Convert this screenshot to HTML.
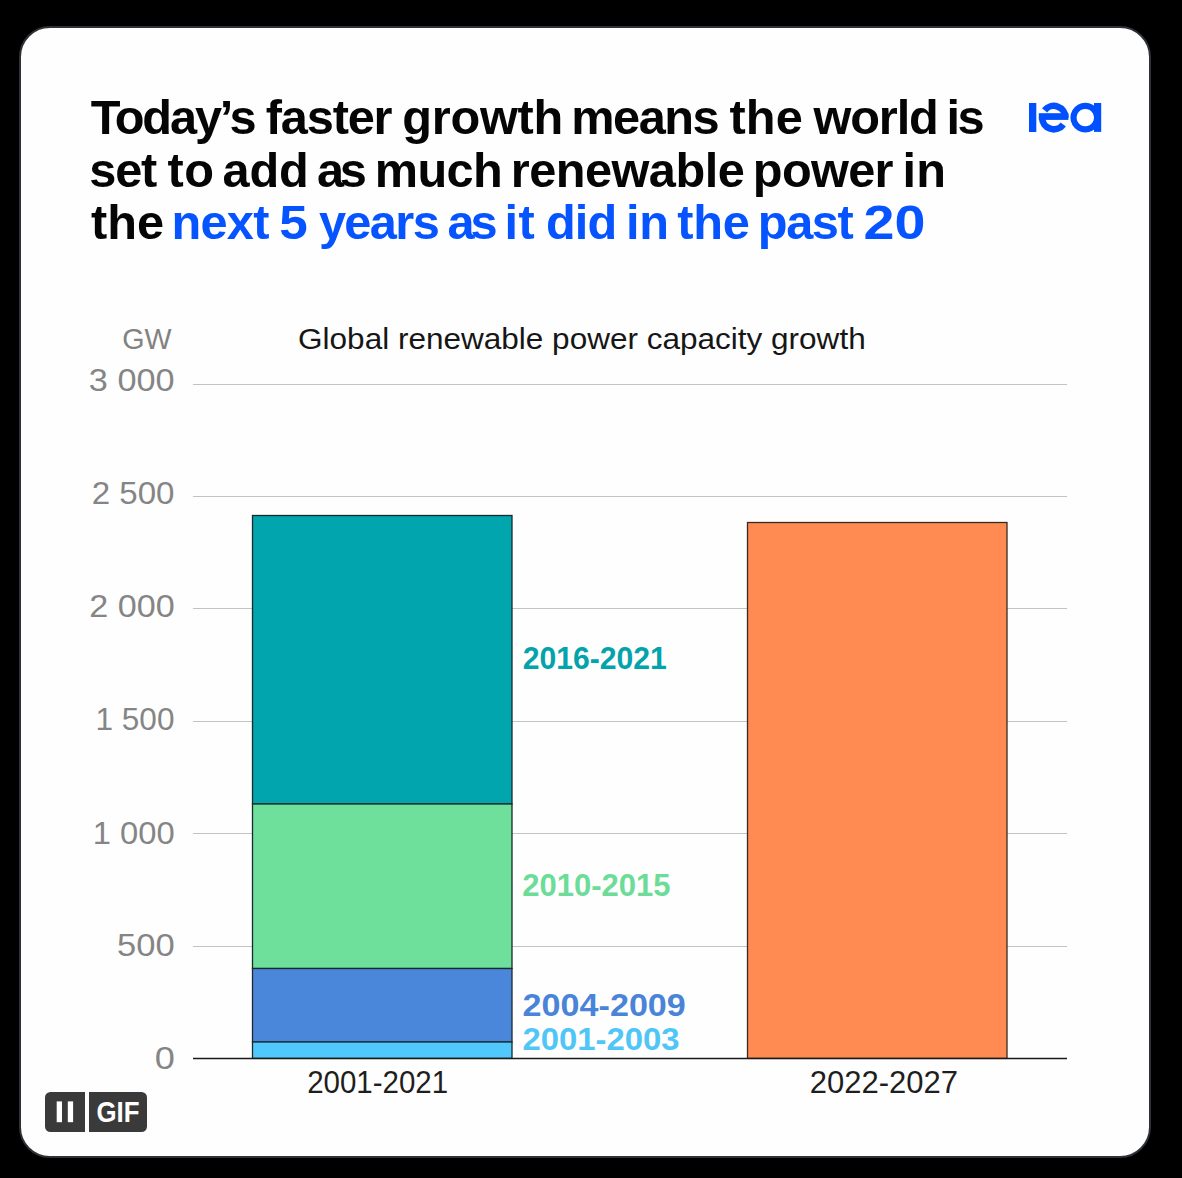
<!DOCTYPE html>
<html>
<head>
<meta charset="utf-8">
<style>
html,body{margin:0;padding:0;background:#000;width:1182px;height:1178px;overflow:hidden;}
svg{display:block;}
text{font-family:"Liberation Sans",sans-serif;}
</style>
</head>
<body>
<svg width="1182" height="1178" viewBox="0 0 1182 1178">
  <rect x="0" y="0" width="1182" height="1178" fill="#000"/>
  <rect x="20" y="27" width="1130" height="1130" rx="30" ry="30" fill="#fefefe" stroke="#2e3236" stroke-width="2"/>

  <!-- Title -->
  <text id="w1_0" x="90.72" y="134.00" font-size="48.7" font-weight="700" fill="#050505" textLength="165.82" lengthAdjust="spacing">Today’s</text>
  <text id="w1_1" x="265.78" y="134.00" font-size="48.7" font-weight="700" fill="#050505" textLength="126.79" lengthAdjust="spacing">faster</text>
  <text id="w1_2" x="402.37" y="134.00" font-size="48.7" font-weight="700" fill="#050505" textLength="160.95" lengthAdjust="spacing">growth</text>
  <text id="w1_3" x="571.18" y="134.00" font-size="48.7" font-weight="700" fill="#050505" textLength="148.43" lengthAdjust="spacing">means</text>
  <text id="w1_4" x="729.60" y="134.00" font-size="48.7" font-weight="700" fill="#050505" textLength="73.12" lengthAdjust="spacing">the</text>
  <text id="w1_5" x="813.58" y="134.00" font-size="48.7" font-weight="700" fill="#050505" textLength="125.15" lengthAdjust="spacing">world</text>
  <text id="w1_6" x="946.61" y="134.00" font-size="48.7" font-weight="700" fill="#050505" textLength="37.93" lengthAdjust="spacing">is</text>
  <text id="w2_0" x="89.36" y="186.50" font-size="48.7" font-weight="700" fill="#050505" textLength="67.85" lengthAdjust="spacing">set</text>
  <text id="w2_1" x="167.60" y="186.50" font-size="48.7" font-weight="700" fill="#050505" textLength="46.30" lengthAdjust="spacing">to</text>
  <text id="w2_2" x="222.57" y="186.50" font-size="48.7" font-weight="700" fill="#050505" textLength="86.09" lengthAdjust="spacing">add</text>
  <text id="w2_3" x="317.01" y="186.50" font-size="48.7" font-weight="700" fill="#050505" textLength="49.71" lengthAdjust="spacing">as</text>
  <text id="w2_4" x="374.72" y="186.50" font-size="48.7" font-weight="700" fill="#050505" textLength="128.00" lengthAdjust="spacing">much</text>
  <text id="w2_5" x="510.75" y="186.50" font-size="48.7" font-weight="700" fill="#050505" textLength="233.97" lengthAdjust="spacing">renewable</text>
  <text id="w2_6" x="752.83" y="186.50" font-size="48.7" font-weight="700" fill="#050505" textLength="140.74" lengthAdjust="spacing">power</text>
  <text id="w2_7" x="902.61" y="186.50" font-size="48.7" font-weight="700" fill="#050505" textLength="43.43" lengthAdjust="spacing">in</text>
  <text id="w3_0" x="91.01" y="238.50" font-size="48.7" font-weight="700" fill="#050505" textLength="73.00" lengthAdjust="spacing">the</text>
  <text id="w3_1" x="171.40" y="238.50" font-size="48.7" font-weight="700" fill="#0554ff" textLength="97.99" lengthAdjust="spacing">next</text>
  <text id="w3_2" x="279.36" y="238.50" font-size="48.7" font-weight="700" fill="#0554ff" textLength="28.47" lengthAdjust="spacingAndGlyphs">5</text>
  <text id="w3_3" x="318.90" y="238.50" font-size="48.7" font-weight="700" fill="#0554ff" textLength="120.84" lengthAdjust="spacing">years</text>
  <text id="w3_4" x="447.51" y="238.50" font-size="48.7" font-weight="700" fill="#0554ff" textLength="50.18" lengthAdjust="spacing">as</text>
  <text id="w3_5" x="504.60" y="238.50" font-size="48.7" font-weight="700" fill="#0554ff" textLength="30.21" lengthAdjust="spacing">it</text>
  <text id="w3_6" x="546.01" y="238.50" font-size="48.7" font-weight="700" fill="#0554ff" textLength="71.25" lengthAdjust="spacing">did</text>
  <text id="w3_7" x="625.95" y="238.50" font-size="48.7" font-weight="700" fill="#0554ff" textLength="43.01" lengthAdjust="spacing">in</text>
  <text id="w3_8" x="677.28" y="238.50" font-size="48.7" font-weight="700" fill="#0554ff" textLength="72.44" lengthAdjust="spacing">the</text>
  <text id="w3_9" x="757.83" y="238.50" font-size="48.7" font-weight="700" fill="#0554ff" textLength="95.91" lengthAdjust="spacing">past</text>
  <text id="w3_10" x="863.58" y="238.50" font-size="48.7" font-weight="700" fill="#0554ff" textLength="61.86" lengthAdjust="spacingAndGlyphs">20</text>

  <!-- IEA logo -->
  <g fill="#0050ff">
    <rect x="1029" y="103" width="7.3" height="29"/>
    <rect x="1038.8" y="113.2" width="29.6" height="6.7"/>
    <path d="M1044.58,110.40 A11.7,11.7 0 0 1 1065.50,117.60" fill="none" stroke="#0050ff" stroke-width="6.6"/>
    <path d="M1042.10,117.60 A11.7,11.7 0 0 0 1063.27,124.48" fill="none" stroke="#0050ff" stroke-width="6.6"/>
    <path d="M1085.3,102.7 a14.9,14.9 0 1 0 0.001,0 Z M1085.3,108.9 a8.7,8.7 0 1 1 -0.001,0 Z" fill-rule="evenodd"/>
    <rect x="1094" y="103" width="7.2" height="28.9"/>
  </g>

  <!-- Chart title -->
  <text id="ctitle" x="298.08" y="349.20" font-size="29.5" fill="#161616" textLength="567.59" lengthAdjust="spacingAndGlyphs">Global renewable power capacity growth</text>
  <text id="gw" x="171.63" y="349.10" font-size="29.5" fill="#828282" text-anchor="end" textLength="49.31" lengthAdjust="spacingAndGlyphs">GW</text>

  <!-- y labels -->
  <g font-size="31" fill="#858585" text-anchor="end" lengthAdjust="spacingAndGlyphs">
    <text id="y3000" x="174.59" y="390.80" textLength="85.72" lengthAdjust="spacingAndGlyphs">3 000</text>
    <text id="y2500" x="174.54" y="504.40" textLength="82.81" lengthAdjust="spacingAndGlyphs">2 500</text>
    <text id="y2000" x="174.63" y="617.00" textLength="85.36" lengthAdjust="spacingAndGlyphs">2 000</text>
    <text id="y1500" x="174.48" y="730.30" textLength="78.97" lengthAdjust="spacingAndGlyphs">1 500</text>
    <text id="y1000" x="174.63" y="843.60" textLength="81.90" lengthAdjust="spacingAndGlyphs">1 000</text>
    <text id="y500" x="174.64" y="956.20" textLength="57.63" lengthAdjust="spacingAndGlyphs">500</text>
    <text id="y0" x="174.81" y="1069.40" textLength="20.09" lengthAdjust="spacingAndGlyphs">0</text>
  </g>

  <!-- gridlines -->
  <g stroke="#c3c3c3" stroke-width="1">
    <line x1="193" y1="384.5" x2="1067" y2="384.5"/>
    <line x1="193" y1="496.5" x2="1067" y2="496.5"/>
    <line x1="193" y1="608.5" x2="1067" y2="608.5"/>
    <line x1="193" y1="721.5" x2="1067" y2="721.5"/>
    <line x1="193" y1="833.5" x2="1067" y2="833.5"/>
    <line x1="193" y1="946.5" x2="1067" y2="946.5"/>
  </g>

  <!-- bars -->
  <g stroke="#1b2a2c" stroke-width="1.3">
    <rect x="252.5" y="515.5" width="259.5" height="288.5" fill="#00a5ae"/>
    <rect x="252.5" y="804" width="259.5" height="164.5" fill="#6ee09b"/>
    <rect x="252.5" y="968.5" width="259.5" height="73.5" fill="#4a86da"/>
    <rect x="252.5" y="1042" width="259.5" height="16.4" fill="#50c8fb"/>
    <rect x="747.5" y="522.5" width="259.5" height="535.9" fill="#ff8a52" stroke="#3a2a22"/>
  </g>
  <line x1="193" y1="1058.4" x2="1067" y2="1058.4" stroke="#1a1a1a" stroke-width="1.5"/>

  <!-- range labels -->
  <g font-size="31.5" font-weight="700">
    <text id="r2016" x="522.65" y="668.50" fill="#03a3ab" textLength="144.02" lengthAdjust="spacingAndGlyphs">2016-2021</text>
    <text id="r2010" x="522.21" y="895.50" fill="#6cdc98" textLength="148.23" lengthAdjust="spacingAndGlyphs">2010-2015</text>
    <text id="r2004" x="522.62" y="1015.50" fill="#4a84d8" textLength="163.21" lengthAdjust="spacingAndGlyphs">2004-2009</text>
    <text id="r2001" x="522.59" y="1050.00" fill="#50c6f6" textLength="157.02" lengthAdjust="spacingAndGlyphs">2001-2003</text>
  </g>

  <!-- x labels -->
  <g font-size="31" fill="#1e1e1e">
    <text id="x1" x="307.14" y="1092.70" textLength="141.04" lengthAdjust="spacingAndGlyphs">2001-2021</text>
    <text id="x2" x="809.84" y="1092.70" textLength="148.20" lengthAdjust="spacingAndGlyphs">2022-2027</text>
  </g>

  <!-- GIF badge -->
  <g fill="#3a3a3a">
    <path d="M50.5,1092 H85 V1132 H50.5 A5.5,5.5 0 0 1 45,1126.5 V1097.5 A5.5,5.5 0 0 1 50.5,1092 Z"/>
    <path d="M89,1092 H141.5 A5.5,5.5 0 0 1 147,1097.5 V1126.5 A5.5,5.5 0 0 1 141.5,1132 H89 Z"/>
  </g>
  <g fill="#fff">
    <rect x="56.7" y="1101.4" width="5.3" height="20.8"/>
    <rect x="67.8" y="1101.4" width="5.3" height="20.8"/>
  </g>
  <text id="gif" x="96.5" y="1121.8" font-size="29.6" font-weight="700" fill="#fff" textLength="43" lengthAdjust="spacingAndGlyphs">GIF</text>
</svg>
</body>
</html>
